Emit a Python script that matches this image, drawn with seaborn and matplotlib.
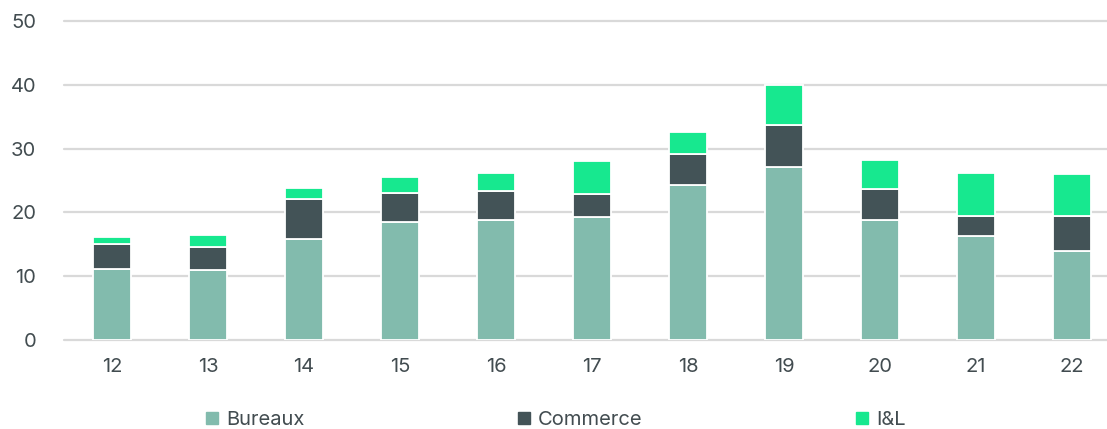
import matplotlib
matplotlib.use("Agg")
import matplotlib.pyplot as plt
import seaborn as sns
import numpy as np
import pandas as pd
from matplotlib.lines import Line2D

years = ["12", "13", "14", "15", "16", "17", "18", "19", "20", "21", "22"]
bureaux = [11.1, 10.9, 15.8, 18.5, 18.8, 19.3, 24.3, 27.1, 18.8, 16.3, 13.9]
commerce = [3.9, 3.6, 6.3, 4.6, 4.5, 3.6, 4.8, 6.6, 4.8, 3.2, 5.6]
il = [1.2, 1.9, 1.8, 2.4, 2.9, 5.2, 3.5, 6.3, 4.6, 6.7, 6.5]
series_names = ["Bureaux", "Commerce", "I&L"]
colors = ["#82bbad", "#435357", "#17e88f"]
yticks = [0, 10, 20, 30, 40, 50]

sns.set_theme(style="white")
plt.rcParams["font.family"] = ["Inter", "DejaVu Sans"]
text_color = "#424c50"

df = pd.DataFrame({"year": years, "Bureaux": bureaux, "Commerce": commerce, "I&L": il})

fig = plt.figure(figsize=(11.07, 4.29), dpi=100)
ax = fig.add_axes([64 / 1107, 1 - 340 / 429, 1 - 64 / 1107, (340 - 21) / 429])

bottom = np.zeros(len(years))
for name, col in zip(series_names, colors):
    sns.barplot(data=df, x="year", y=name, color=col, width=0.39, bottom=bottom,
                edgecolor="white", linewidth=1.3, saturation=1, ax=ax, zorder=3)
    bottom = bottom + df[name].values

ax.set_ylim(0, 50)
ax.set_xlim(-0.5, 10.365)
ax.set_yticks(yticks)
ax.set_yticklabels([str(v) for v in yticks])
ax.yaxis.grid(True, color="#d9d9d9", linewidth=1.6, zorder=0)
for gl in ax.get_ygridlines():
    gl.set_clip_on(False)
ax.set_axisbelow(True)
for s in ax.spines.values():
    s.set_visible(False)
ax.set_xlabel("")
ax.set_ylabel("")
ax.tick_params(axis="both", length=0, labelsize=14.5, colors=text_color)
ax.tick_params(axis="y", pad=20)
ax.tick_params(axis="x", pad=13)

handles = [Line2D([0], [0], marker="s", linestyle="none", markersize=8,
                  markerfacecolor=c, markeredgecolor=c) for c in colors]
leg = fig.legend(handles, series_names, loc="center", bbox_to_anchor=(556 / 1107, 1 - 420 / 429),
                 ncol=3, frameon=False, fontsize=14.5, handlelength=0.6, handletextpad=0.4,
                 columnspacing=10.6, borderpad=0)
for t in leg.get_texts():
    t.set_color(text_color)

fig.savefig("out.png", dpi=100)
